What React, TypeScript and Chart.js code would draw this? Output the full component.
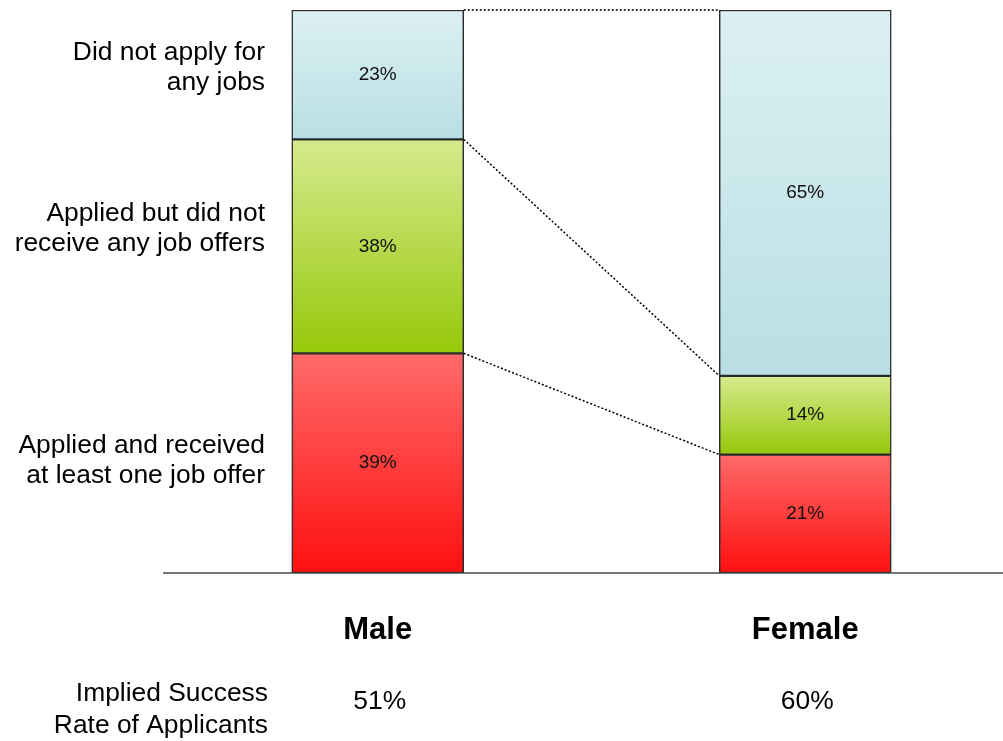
import React, { useEffect, useRef } from "react";
import { Chart, registerables } from "chart.js";
Chart.register(...registerables);

const categories = ["Male", "Female"];
const offerValues = [39, 21];
const noOfferValues = [38, 14];
const notAppliedValues = [23, 65];
const successRates = [51, 60];
const seriesNames = [
  "Applied and received at least one job offer",
  "Applied but did not receive any job offers",
  "Did not apply for any jobs",
];
const seriesLabelLines = [
  ["Applied and received", "at least one job offer"],
  ["Applied but did not", "receive any job offers"],
  ["Did not apply for", "any jobs"],
];
const rowLabelLines = ["Implied Success", "Rate of Applicants"];

const FONT = '"Liberation Sans", Arial, Helvetica, sans-serif';
const allSeries = [offerValues, noOfferValues, notAppliedValues];
const gradientStops = [
  ["#ff6a6a", "#ff1010"],
  ["#d6ea8e", "#96c80a"],
  ["#dcf0f3", "#b8dfe3"],
];

const overlayPlugin = {
  id: "overlay",
  afterDatasetsDraw(chart: any) {
    const ctx = chart.ctx;
    ctx.save();
    ctx.strokeStyle = "#000";
    ctx.lineWidth = 1.5;
    ctx.setLineDash([2, 2]);
    for (let d = 0; d < allSeries.length; d++) {
      const meta = chart.getDatasetMeta(d);
      const a = meta.data[0] as any;
      const b = meta.data[1] as any;
      ctx.beginPath();
      ctx.moveTo(a.x + a.width / 2, a.y);
      ctx.lineTo(b.x - b.width / 2, b.y);
      ctx.stroke();
    }
    ctx.setLineDash([]);
    ctx.fillStyle = "#111";
    ctx.font = `19px ${FONT}`;
    ctx.textAlign = "center";
    ctx.textBaseline = "middle";
    for (let d = 0; d < allSeries.length; d++) {
      const meta = chart.getDatasetMeta(d);
      meta.data.forEach((el: any, i: number) => {
        ctx.fillText(`${allSeries[d][i]}%`, el.x, (el.y + el.base) / 2);
      });
    }
    ctx.restore();
  },
  afterDraw(chart: any) {
    const ctx = chart.ctx;
    const area = chart.chartArea;
    ctx.save();
    ctx.fillStyle = "#000";
    ctx.font = `26.4px ${FONT}`;
    ctx.textAlign = "right";
    ctx.textBaseline = "middle";
    const labelRight = area.left + 101;
    const centers = [460.5, 228.5, 67.5];
    const lh = 30;
    seriesLabelLines.forEach((lines, k) => {
      lines.forEach((t, j) => {
        ctx.fillText(t, labelRight, centers[k] + (j - (lines.length - 1) / 2) * lh);
      });
    });
    rowLabelLines.forEach((t, j) => {
      ctx.fillText(t, labelRight + 3, 694 + j * 32);
    });
    ctx.textAlign = "center";
    const xs = chart.scales.x;
    successRates.forEach((v, i) => {
      ctx.fillText(`${v}%`, xs.getPixelForValue(i) + 2, 702);
    });
    ctx.restore();
  },
};

export default function App() {
  const ref = useRef<HTMLCanvasElement | null>(null);
  useEffect(() => {
    if (!ref.current) return;
    const datasets = allSeries.map((vals, d) => ({
      label: seriesNames[d],
      data: vals,
      barThickness: 172,
      borderColor: "#2a2a2a",
      borderWidth: 1.5,
      borderSkipped: false,
      backgroundColor: (c: any) => {
        const chart = c.chart;
        const y = chart.scales?.y;
        const [top, bottom] = gradientStops[d];
        if (!y || c.dataIndex === undefined) return bottom;
        const i = c.dataIndex;
        let base = 0;
        for (let k = 0; k < d; k++) base += allSeries[k][i];
        const topVal = base + allSeries[d][i];
        const y0 = y.getPixelForValue(topVal);
        const y1 = y.getPixelForValue(base);
        if (!isFinite(y0) || !isFinite(y1)) return bottom;
        const g = chart.ctx.createLinearGradient(0, y0, 0, y1);
        g.addColorStop(0, top);
        g.addColorStop(1, bottom);
        return g;
      },
    }));
    const chart = new Chart(ref.current, {
      type: "bar",
      data: { labels: categories, datasets },
      options: {
        animation: false,
        responsive: false,
        maintainAspectRatio: false,
        layout: { padding: { left: 164, right: 1, top: 10, bottom: 53 } },
        plugins: { legend: { display: false }, tooltip: { enabled: false } },
        scales: {
          x: {
            stacked: true,
            grid: { display: false, drawTicks: false },
            border: { display: true, color: "#777", width: 2 },
            ticks: {
              color: "#000",
              padding: 39,
              font: { family: FONT, size: 31, weight: "bold" },
            },
          },
          y: { display: false, stacked: true, min: 0, max: 100 },
        },
      },
      plugins: [overlayPlugin],
    });
    return () => chart.destroy();
  }, []);
  return (
    <div
      style={{
        position: "fixed",
        left: 0,
        top: 0,
        width: 1003,
        height: 741,
        overflow: "hidden",
        background: "#fff",
      }}
    >
      <canvas ref={ref} width={1020} height={741} style={{ width: 1020, height: 741, display: "block" }} />
    </div>
  );
}
